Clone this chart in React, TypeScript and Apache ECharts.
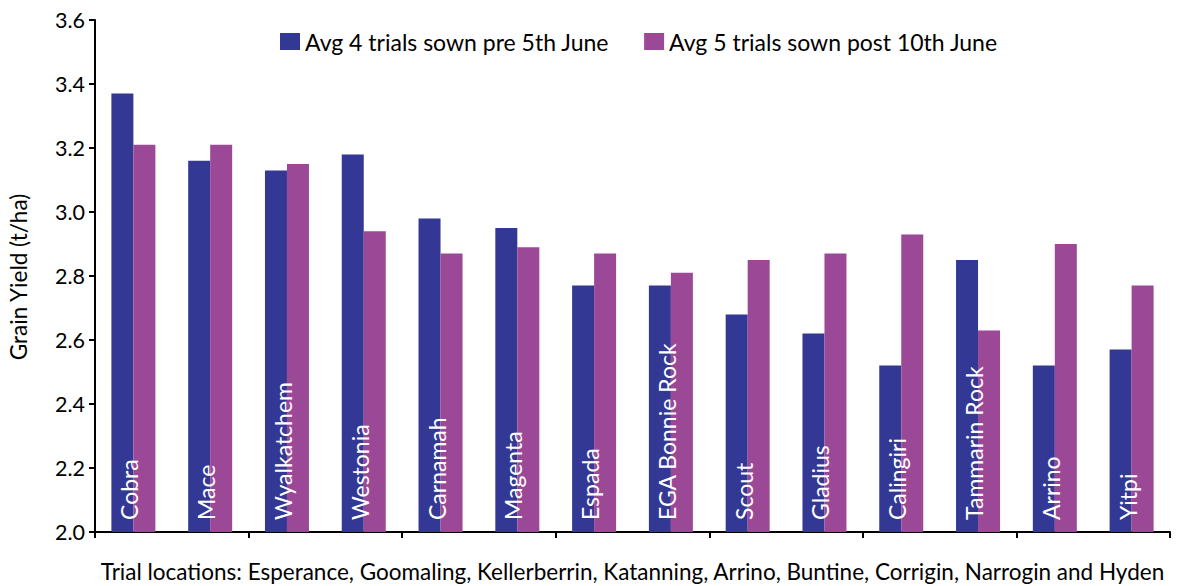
import React, { useEffect, useRef } from "react";
import * as echarts from "echarts";

const categories = ["Cobra", "Mace", "Wyalkatchem", "Westonia", "Carnamah", "Magenta", "Espada", "EGA Bonnie Rock", "Scout", "Gladius", "Calingiri", "Tammarin Rock", "Arrino", "Yitpi"];
const preJune = [3.37, 3.16, 3.13, 3.18, 2.98, 2.95, 2.77, 2.77, 2.68, 2.62, 2.52, 2.85, 2.52, 2.57];
const postJune = [3.21, 3.21, 3.15, 2.94, 2.87, 2.89, 2.87, 2.81, 2.85, 2.87, 2.93, 2.63, 2.90, 2.77];
const seriesNames = ["Avg 4 trials sown pre 5th June", "Avg 5 trials sown post 10th June"];
const yTicks = { min: 2.0, max: 3.6, interval: 0.2 };
const yAxisTitle = "Grain Yield (t/ha)";
const xAxisTitle = "Trial locations: Esperance, Goomaling, Kellerberrin, Katanning, Arrino, Buntine, Corrigin, Narrogin and Hyden";

const FONT = "Lato, 'Open Sans', sans-serif";

export default function App() {
  const ref = useRef<HTMLDivElement>(null);
  useEffect(() => {
    if (!ref.current) return;
    const chart = echarts.init(ref.current, null, { renderer: "svg" });
    chart.setOption({
      animation: false,
      backgroundColor: "#ffffff",
      textStyle: { fontFamily: FONT },
      grid: { left: 95, right: 11, top: 20, bottom: 54, containLabel: false, outerBoundsMode: "none" },
      legend: {
        top: 25,
        left: 275,
        itemWidth: 20,
        itemHeight: 17,
        itemGap: 35,
        icon: "rect",
        textStyle: { fontSize: 23, color: "#000", fontFamily: FONT },
        data: seriesNames,
      },
      graphic: [
        {
          type: "text",
          x: 18,
          y: 277,
          rotation: Math.PI / 2,
          style: {
            text: yAxisTitle,
            fontSize: 22.5,
            fontFamily: FONT,
            fill: "#000",
            textAlign: "center",
            textVerticalAlign: "middle",
          },
        },
      ],
      xAxis: {
        type: "category",
        data: categories,
        name: xAxisTitle,
        nameLocation: "middle",
        nameGap: 28,
        nameTextStyle: { fontSize: 22.5, color: "#000", fontFamily: FONT },
        axisLine: { lineStyle: { color: "#000", width: 2 } },
        axisTick: { show: true, length: 6, lineStyle: { color: "#000", width: 2 } },
        axisLabel: { show: false },
        splitLine: { show: false },
      },
      yAxis: {
        type: "value",
        min: yTicks.min,
        max: yTicks.max,
        interval: yTicks.interval,
        axisLine: { show: true, lineStyle: { color: "#000", width: 2 } },
        axisTick: { show: true, length: 6, lineStyle: { color: "#000", width: 2 } },
        axisLabel: { fontSize: 21.5, color: "#000", margin: 10, fontFamily: FONT, formatter: (v: number) => v.toFixed(1) },
        splitLine: { show: false },
      },
      series: [
        {
          name: seriesNames[0],
          type: "bar",
          data: preJune,
          barWidth: 22,
          barGap: "0%",
          itemStyle: { color: "#333894" },
          label: {
            show: true,
            position: "insideBottom",
            rotate: 90,
            align: "left",
            verticalAlign: "middle",
            distance: 12,
            offset: [0, 7],
            color: "#fff",
            fontSize: 23,
            fontFamily: FONT,
            formatter: (p: any) => categories[p.dataIndex],
          },
        },
        {
          name: seriesNames[1],
          type: "bar",
          data: postJune,
          barWidth: 22,
          barGap: "0%",
          itemStyle: { color: "#9b4997" },
        },
      ],
    });
    return () => chart.dispose();
  }, []);
  return <div ref={ref} style={{ position: "absolute", left: 0, top: 0, width: 1181, height: 586 }} />;
}
